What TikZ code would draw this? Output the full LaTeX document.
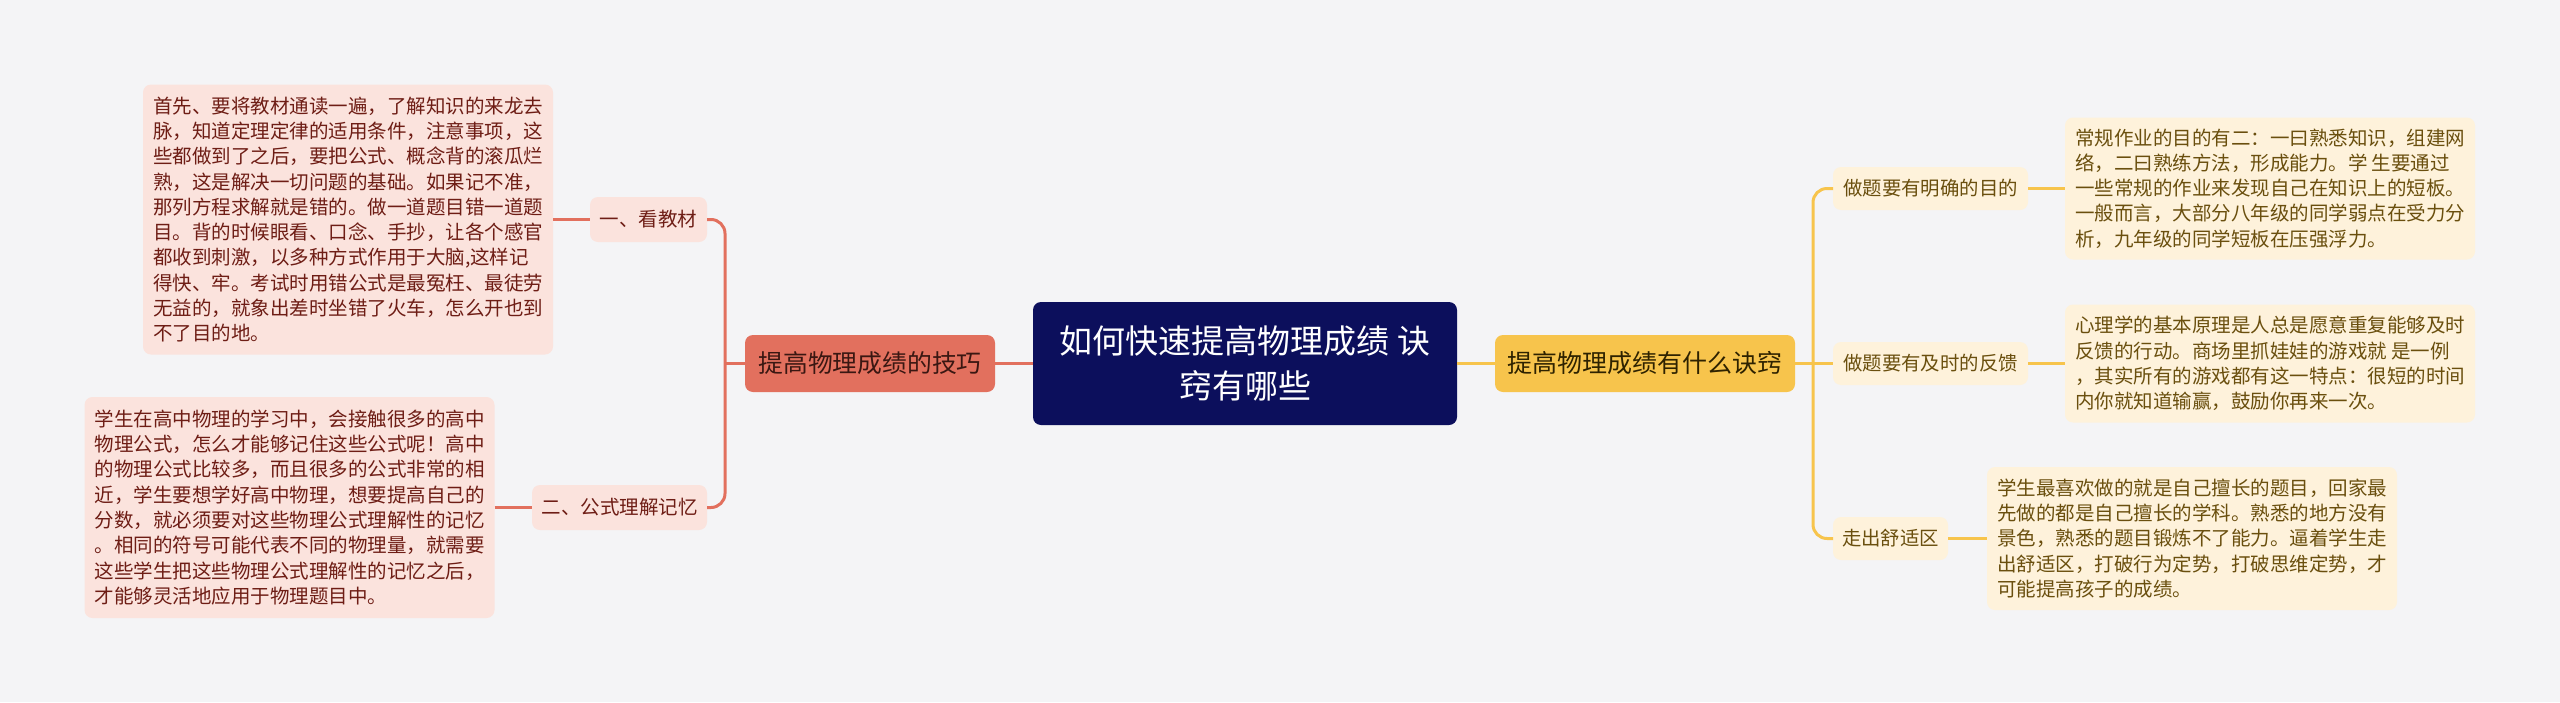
\documentclass[tikz,border=0pt]{standalone}
\usepackage{fontspec}
\setmainfont{Noto Sans CJK SC}
\usetikzlibrary{calc}
\definecolor{bg}{HTML}{F4F4F6}
\definecolor{navy}{HTML}{0C0F5C}
\definecolor{salmon}{HTML}{E2705E}
\definecolor{pinkfill}{HTML}{FBE3DD}
\definecolor{redtext}{HTML}{6E1D15}
\definecolor{darkred}{HTML}{3A1712}
\definecolor{gold}{HTML}{F7C44C}
\definecolor{creamfill}{HTML}{FEF2DB}
\definecolor{browntext}{HTML}{6A4F0E}
\definecolor{darkbrown}{HTML}{2E2200}

\begin{document}
\begin{tikzpicture}[x=0.5pt,y=-0.5pt,
  box/.style={rounded corners=4pt,inner sep=0pt,outer sep=0pt},
  root/.style={box,fill=navy,text=white,minimum width=212pt,minimum height=61.5pt,align=center,font=\fontsize{16.5pt}{22.5pt}\selectfont},
  mainl/.style={box,fill=salmon,text=darkred,minimum width=125pt,minimum height=28.5pt,font=\fontsize{12.4pt}{15pt}\selectfont},
  mainr/.style={box,fill=gold,text=darkbrown,minimum width=150pt,minimum height=28.5pt,font=\fontsize{12.5pt}{15pt}\selectfont},
  subl/.style={box,fill=pinkfill,text=redtext,minimum height=22.5pt,font=\fontsize{9.75pt}{12pt}\selectfont},
  subr/.style={box,fill=creamfill,text=browntext,minimum height=21.5pt,font=\fontsize{9.7pt}{12pt}\selectfont},
  leafl/.style={subl,align=left,inner xsep=5pt,minimum width=205pt,font=\fontsize{9.75pt}{12.65pt}\selectfont},
  leafr/.style={subr,align=left,inner xsep=5pt,minimum width=205pt,font=\fontsize{9.75pt}{12.65pt}\selectfont},
  lline/.style={salmon,line width=1.5pt},
  rline/.style={gold,line width=1.5pt}]
  \fill[bg] (0,0) rectangle (2560,702);

  \node[root] (title) at (1245,363.5) {如何快速提高物理成绩 诀\\窍有哪些};
  \node[mainl] (skill) at (870,363.5) {提高物理成绩的技巧};
  \node[mainr] (secret) at (1645,363.5) {提高物理成绩有什么诀窍};

  \node[subl,minimum width=58.5pt] (book) at (648.5,219.5) {一、看教材};
  \node[subl,minimum width=87.5pt] (formula) at (619.5,507.5) {二、公式理解记忆};
  \node[leafl,minimum height=135pt] (bookText) at (348,219.5) {首先、要将教材通读一遍，了解知识的来龙去\\脉，知道定理定律的适用条件，注意事项，这\\些都做到了之后，要把公式、概念背的滚瓜烂\\熟，这是解决一切问题的基础。如果记不准，\\那列方程求解就是错的。做一道题目错一道题\\目。背的时候眼看、口念、手抄，让各个感官\\都收到刺激，以多种方式作用于大脑,这样记\\得快、牢。考试时用错公式是最冤枉、最徒劳\\无益的，就象出差时坐错了火车，怎么开也到\\不了目的地。};
  \node[leafl,minimum height=110.5pt] (formulaText) at (289.5,507.5) {学生在高中物理的学习中，会接触很多的高中\\物理公式，怎么才能够记住这些公式呢！高中\\的物理公式比较多，而且很多的公式非常的相\\近，学生要想学好高中物理，想要提高自己的\\分数，就必须要对这些物理公式理解性的记忆\\。相同的符号可能代表不同的物理量，就需要\\这些学生把这些物理公式理解性的记忆之后，\\才能够灵活地应用于物理题目中。};

  \node[subr,minimum width=97.5pt] (goal) at (1930.5,188.5) {做题要有明确的目的};
  \node[subr,minimum width=97.5pt] (feedback) at (1930.5,363.5) {做题要有及时的反馈};
  \node[subr,minimum width=57.5pt] (comfort) at (1890.5,538.5) {走出舒适区};
  \node[leafr,minimum height=71pt] (goalText) at (2270,188.5) {常规作业的目的有二：一曰熟悉知识，组建网\\络，二曰熟练方法，形成能力。学 生要通过\\一些常规的作业来发现自己在知识上的短板。\\一般而言，大部分八年级的同学弱点在受力分\\析，九年级的同学短板在压强浮力。};
  \node[leafr,minimum height=59pt] (feedbackText) at (2270,363.5) {心理学的基本原理是人总是愿意重复能够及时\\反馈的行动。商场里抓娃娃的游戏就 是一例\\，其实所有的游戏都有这一特点：很短的时间\\内你就知道输赢，鼓励你再来一次。};
  \node[leafr,minimum height=71.5pt] (comfortText) at (2192,538.5) {学生最喜欢做的就是自己擅长的题目，回家最\\先做的都是自己擅长的学科。熟悉的地方没有\\景色，熟悉的题目锻炼不了能力。逼着学生走\\出舒适区，打破行为定势，打破思维定势，才\\可能提高孩子的成绩。};

  \draw[lline] (skill.east) -- (title.west);
  \draw[rline] (title.east) -- (secret.west);
  \coordinate (lbus) at (725,363.5);
  \draw[lline] (skill.west) -- (lbus);
  \draw[lline,rounded corners=7pt] (book.east) -| (lbus) |- (formula.east);
  \draw[lline] (bookText.east) -- (book.west);
  \draw[lline] (formulaText.east) -- (formula.west);
  \coordinate (rbus) at (1813,363.5);
  \draw[rline] (secret.east) -- (feedback.west);
  \draw[rline,rounded corners=7pt] (goal.west) -| (rbus) |- (comfort.west);
  \draw[rline] (goal.east) -- (goalText.west);
  \draw[rline] (feedback.east) -- (feedbackText.west);
  \draw[rline] (comfort.east) -- (comfortText.west);
\end{tikzpicture}
\end{document}
